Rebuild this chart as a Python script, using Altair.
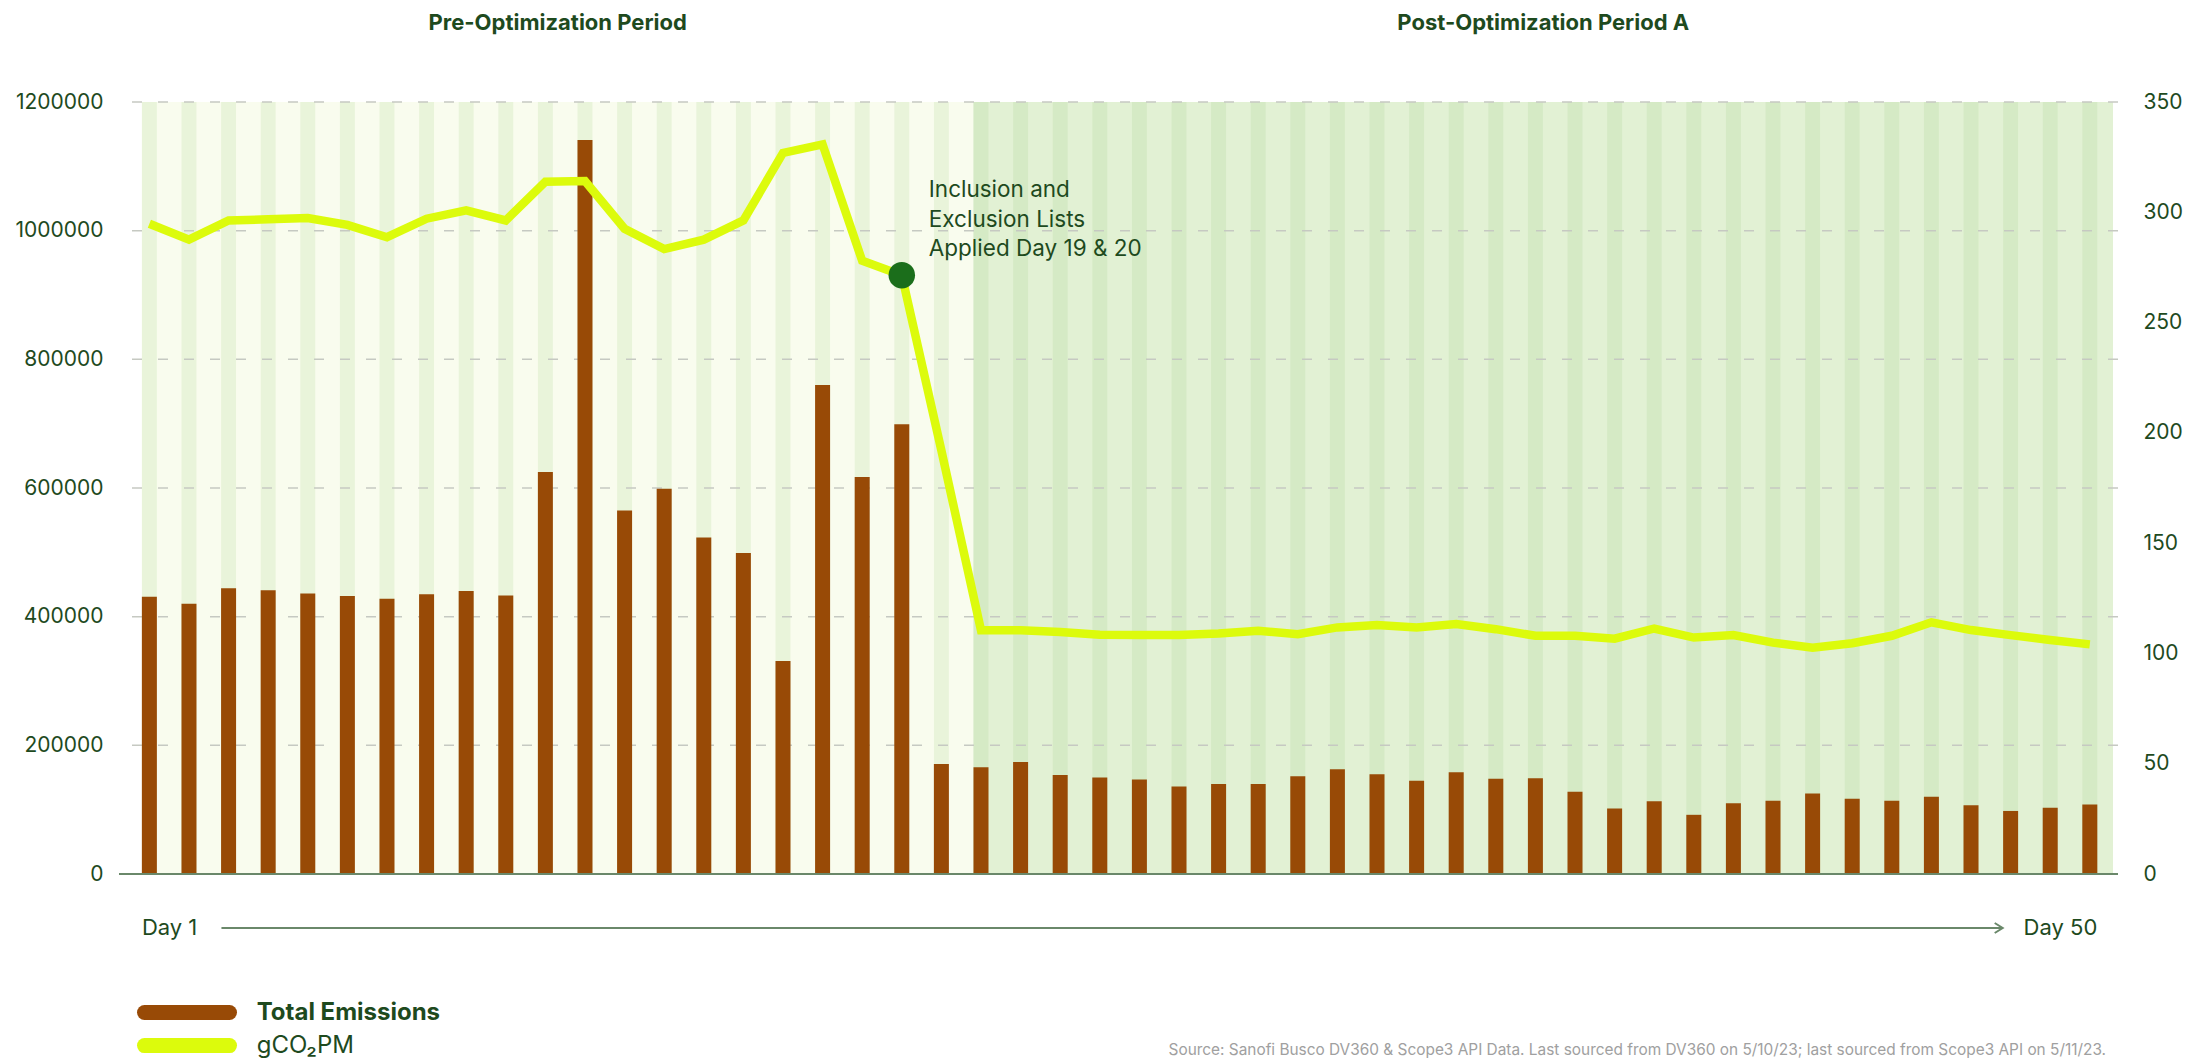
import altair as alt
import pandas as pd

# ---------------- data ----------------
days = list(range(1, 51))
total_emissions = [
    431000, 420000, 444000, 441000, 436000, 432000, 428000, 435000, 440000, 433000,
    625000, 1141000, 565000, 599000, 523000, 499000, 331000, 760000, 617000, 699000,
    171000, 166000, 174000, 154000, 150000, 147000, 136000, 140000, 140000, 152000,
    163000, 155000, 145000, 158000, 148000, 149000, 128000, 102000, 113000, 92000,
    110000, 114000, 125000, 117000, 114000, 120000, 107000, 98000, 103000, 108000,
]
gco2pm = [
    294.8, 287.6, 296.3, 296.8, 297.4, 294.3, 288.7, 297.1, 300.9, 296.3,
    313.9, 314.2, 292.5, 283.3, 287.6, 296.3, 326.9, 330.8, 278.0, 271.5,
    192.0, 110.5, 110.5, 109.7, 108.5, 108.3, 108.3, 109.0, 110.3, 108.7,
    111.8, 112.9, 111.8, 113.3, 111.0, 108.0, 108.0, 106.7, 111.3, 107.2,
    108.3, 104.9, 102.6, 104.6, 108.0, 114.1, 110.6, 108.3, 106.1, 104.1,
]
left_ticks = [0, 200000, 400000, 600000, 800000, 1000000, 1200000]
right_ticks = [0, 50, 100, 150, 200, 250, 300, 350]
period_labels = ["Pre-Optimization Period", "Post-Optimization Period A"]
period_kind = ["pre", "post"]
last_pre_day = 21
applied_day = 20
annotation_text = "Inclusion and\nExclusion Lists\nApplied Day 19 & 20"
axis_labels = ["Day 1", "Day 50"]
legend_labels = ["Total Emissions", "gCO₂PM"]
source_text = ("Source: Sanofi Busco DV360 & Scope3 API Data. Last sourced from DV360 on 5/10/23; "
               "last sourced from Scope3 API on 5/11/23.")

# ---------------- layout / style ----------------
W, H = 1999, 772
PX_PER_DAY = 39.8
X0 = 1 - 25.5 / PX_PER_DAY
X1 = X0 + W / PX_PER_DAY
HALF_BAR = 7.5 / PX_PER_DAY

DARK = "#1e4a1e"
BROWN = "#984a06"
LIME = "#dcfb0c"
PRE_BG = "#f9fcee"
PRE_STRIPE = "#e9f4da"
POST_BG = "#e2f1d4"
POST_STRIPE = "#d5eac5"
GRID = "#c6c9c2"
AXISLINE = "#6a886a"
DOT = "#1b6e1b"
SOURCE = "#a0a0a0"
FONT = "Inter"

df = pd.DataFrame({"day": days, "emissions": total_emissions, "gco2pm": gco2pm})
df["period"] = ["pre" if d <= last_pre_day else "post" for d in days]

periods_df = pd.DataFrame({
    "label": period_labels,
    "kind": period_kind,
    "start": [1 - HALF_BAR, last_pre_day + 1 - HALF_BAR],
    "end": [last_pre_day + 1 - HALF_BAR, X1],
})

xscale = alt.Scale(domain=[X0, X1], nice=False, zero=False)


def X(field="day"):
    return alt.X(f"{field}:Q", scale=xscale, axis=None)


left_scale = alt.Scale(domain=[0, 1200000], nice=False, zero=True)
left_axis = alt.Axis(orient="left", values=left_ticks, format="d", labelFontSize=21,
                     labelColor=DARK, labelFont=FONT, domain=False, ticks=False,
                     grid=False, labelPadding=16, title=None)
right_scale = alt.Scale(domain=[0, 350], nice=False, zero=True)
right_axis = alt.Axis(orient="right", values=right_ticks, format="d", labelFontSize=21,
                      labelColor=DARK, labelFont=FONT, domain=False, ticks=False,
                      grid=False, labelPadding=25, title=None)

one = pd.DataFrame({"a": [0]})

# ---------------- left-scale layers ----------------
regions = alt.Chart(periods_df).mark_rect().encode(
    x=X("start"), x2="end:Q",
    y=alt.value(0), y2=alt.value(H),
    color=alt.condition(alt.datum.kind == "pre", alt.value(PRE_BG), alt.value(POST_BG)),
)

stripes = alt.Chart(df).transform_calculate(
    s1=f"datum.day - {HALF_BAR}", s2=f"datum.day + {HALF_BAR}"
).mark_rect().encode(
    x=X("s1"), x2="s2:Q",
    y=alt.value(0), y2=alt.value(H),
    color=alt.condition(alt.datum.period == "pre", alt.value(PRE_STRIPE), alt.value(POST_STRIPE)),
)

grid = alt.Chart(pd.DataFrame({"emissions": left_ticks[1:]})).mark_rule(
    stroke=GRID, strokeWidth=1.5, strokeDash=[10, 16]
).encode(y=alt.Y("emissions:Q", scale=left_scale, axis=left_axis))

bars = alt.Chart(df).mark_bar(size=15, color=BROWN).encode(
    x=X(), y=alt.Y("emissions:Q", scale=left_scale, axis=left_axis)
)

baseline = alt.Chart(pd.DataFrame({"emissions": [0]})).mark_rule(
    stroke=AXISLINE, strokeWidth=2
).encode(y=alt.Y("emissions:Q", scale=left_scale, axis=left_axis))

layer_left = alt.layer(regions, stripes, grid, bars, baseline)

# ---------------- right-scale layers ----------------
line = alt.Chart(df).mark_line(color=LIME, strokeWidth=8.5).encode(
    x=X(), y=alt.Y("gco2pm:Q", scale=right_scale, axis=right_axis)
)
dot = alt.Chart(df).transform_filter(alt.datum.day == applied_day).mark_circle(
    size=700, color=DOT, opacity=1
).encode(x=X(), y=alt.Y("gco2pm:Q", scale=right_scale, axis=right_axis))

layer_right = alt.layer(line, dot)

# ---------------- texts / decorations ----------------
titles = alt.Chart(periods_df).transform_calculate(
    mid="(datum.start + datum.end) / 2"
).mark_text(fontSize=22, fontWeight="bold", color=DARK, font=FONT,
            align="center", baseline="alphabetic").encode(
    x=X("mid"), y=alt.value(-72), text="label:N"
)

annot = alt.Chart(pd.DataFrame({"day": [applied_day], "t": [annotation_text]})).mark_text(
    fontSize=22.5, color=DARK, font=FONT, align="left", baseline="alphabetic",
    lineBreak="\n", lineHeight=29.5, dx=27
).encode(x=X(), y=alt.value(95), text="t:N")

day_first = alt.Chart(pd.DataFrame({"day": [days[0] - HALF_BAR], "t": [axis_labels[0]]})).mark_text(
    fontSize=22, color=DARK, font=FONT, align="left", baseline="middle"
).encode(x=X(), y=alt.value(826), text="t:N")

day_last = alt.Chart(pd.DataFrame({"day": [days[-1] + HALF_BAR], "t": [axis_labels[1]]})).mark_text(
    fontSize=22, color=DARK, font=FONT, align="right", baseline="middle"
).encode(x=X(), y=alt.value(826), text="t:N")

arrow_df = pd.DataFrame({"a": [2.82], "b": [47.8]})
arrow = alt.Chart(arrow_df).mark_rule(stroke=AXISLINE, strokeWidth=2).encode(
    x=X("a"), x2="b:Q", y=alt.value(826)
)
arrow_head = alt.Chart(arrow_df).mark_point(
    shape="M-1.6,-1L0,0L-1.6,1", size=100, filled=False, stroke=AXISLINE,
    strokeWidth=2, opacity=1
).encode(x=X("b"), y=alt.value(826))

legend_layers = []
for label, col, weight, yy in zip(legend_labels, [BROWN, LIME], ["bold", "normal"], [910.5, 943.6]):
    legend_layers.append(
        alt.Chart(one).mark_rule(stroke=col, strokeWidth=15, strokeCap="round").encode(
            x=alt.value(25.5), x2=alt.value(110.5), y=alt.value(yy)
        )
    )
    legend_layers.append(
        alt.Chart(one).mark_text(fontSize=24, fontWeight=weight, color=DARK, font=FONT,
                                 align="left", baseline="middle").encode(
            x=alt.value(137.7), y=alt.value(yy), text=alt.value(label)
        )
    )

src = alt.Chart(one).mark_text(fontSize=15.4, color=SOURCE, font=FONT, align="right",
                               baseline="alphabetic").encode(
    x=alt.value(1987), y=alt.value(953), text=alt.value(source_text)
)

chart = alt.layer(
    layer_left, layer_right, titles, annot, day_first, day_last, arrow, arrow_head,
    *legend_layers, src
).resolve_scale(y="independent").properties(
    width=W, height=H,
    padding={"left": 111, "top": 94, "right": 80, "bottom": 187},
    autosize=alt.AutoSizeParams(type="none"),
    background="white",
).configure(font=FONT).configure_view(stroke=None)

chart.save("out.html", embed_options={"renderer": "svg", "actions": False})
